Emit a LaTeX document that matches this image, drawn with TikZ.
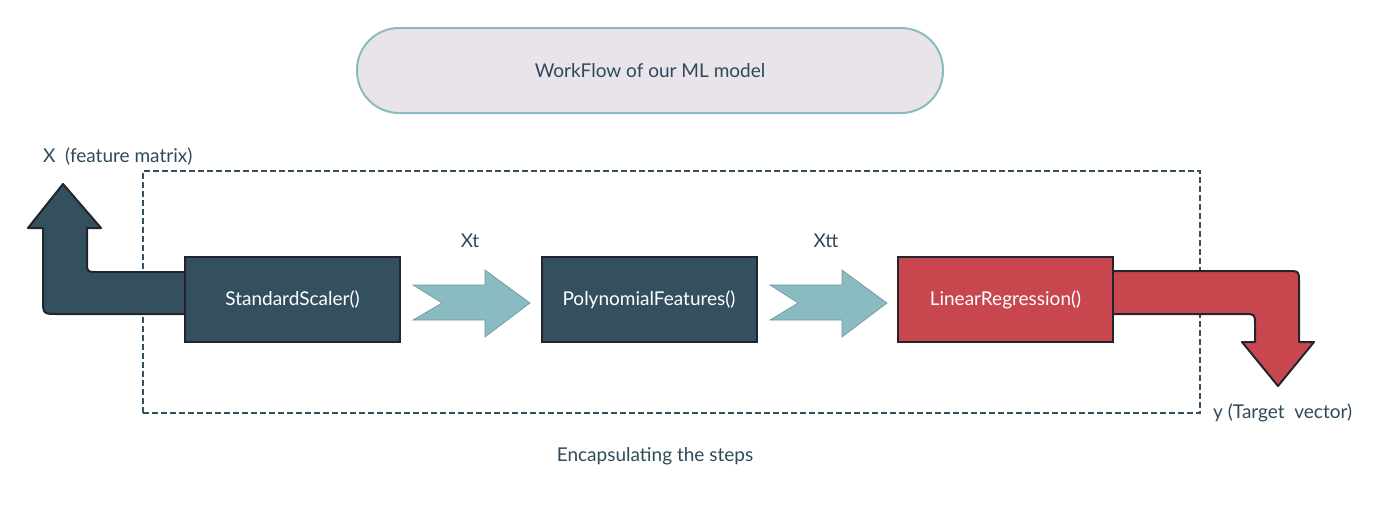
\documentclass[tikz,border=0pt]{standalone}
\usepackage{fontspec}
\setmainfont{Lato}
\definecolor{slate}{HTML}{34505F}
\definecolor{txt}{HTML}{2E4A5A}
\definecolor{teal}{HTML}{8ABBC1}
\definecolor{redb}{HTML}{C8474E}
\definecolor{pill}{HTML}{E9E4E9}
\definecolor{edge}{HTML}{22252E}
\begin{document}
\begin{tikzpicture}[x=1pt,y=-1pt,
  stage/.style={draw=edge,line width=2pt,minimum width=215pt,minimum height=85pt,inner sep=0pt,text=white,font=\fontsize{19}{22}\selectfont},
  lbl/.style={text=txt,font=\fontsize{19}{22}\selectfont,inner sep=0pt},
  flowarrow/.style={fill=teal,draw=teal!80!black,line width=0.6pt},
  bent/.style={draw=edge,line width=2pt,line join=round}]
\useasboundingbox (0,0) rectangle (1400,514);
% title
\node[draw=teal,line width=2pt,fill=pill,rounded corners=42pt,minimum width=586pt,minimum height=85pt,lbl] (title) at (650,70.5) {WorkFlow of our ML model};
% encapsulating dashed box
\node[draw=slate,line width=2pt,dash pattern=on 6pt off 3pt,minimum width=1057pt,minimum height=242pt,inner sep=0pt] (enc) at (671.5,292) {};
% left bent arrow (behind box)
\draw[bent,fill=slate] (190,272) -- (97,272) .. controls (87,272) .. (87,262) -- (87,228) -- (101,228) -- (63,184) -- (28,228) -- (43,228) -- (43,299) .. controls (43,314) .. (58,314) -- (190,314);
% right bent arrow
\draw[bent,fill=redb] (1108,271) -- (1287,271) .. controls (1299,271) .. (1299,283) -- (1299,342) -- (1314,342) -- (1278,386) -- (1242,342) -- (1255,342) -- (1255,325) .. controls (1255,314) .. (1244,314) -- (1108,314);
% stages
\node[stage,fill=slate] (ss) at (292.5,299.5) {StandardScaler()};
\node[stage,fill=slate] (pf) at (649,299.5) {PolynomialFeatures()};
\node[stage,fill=redb] (lr) at (1005.5,299.5) {LinearRegression()};
% flow arrows
\coordinate (a1) at (413,285);
\draw[flowarrow] (a1) -- (485,285) -- (485,270) -- (530,303) -- (485,337) -- (485,320) -- (413,320) -- (442,303) -- cycle;
\coordinate (a2) at (770,285);
\draw[flowarrow] (a2) -- (842,285) -- (842,270) -- (887,303) -- (842,337) -- (842,320) -- (770,320) -- (798,303) -- cycle;
% labels
\node[lbl] (xt) at (470,241) {Xt};
\node[lbl] (xtt) at (826,241) {Xtt};
\node[lbl,anchor=west] (xlab) at (43,157) {X\ \ (feature matrix)};
\node[lbl,anchor=west] (ylab) at (1213,413) {y (Target\ \ vector)};
\node[lbl] (encl) at (655,456) {Encapsulating the steps};
\end{tikzpicture}
\end{document}
